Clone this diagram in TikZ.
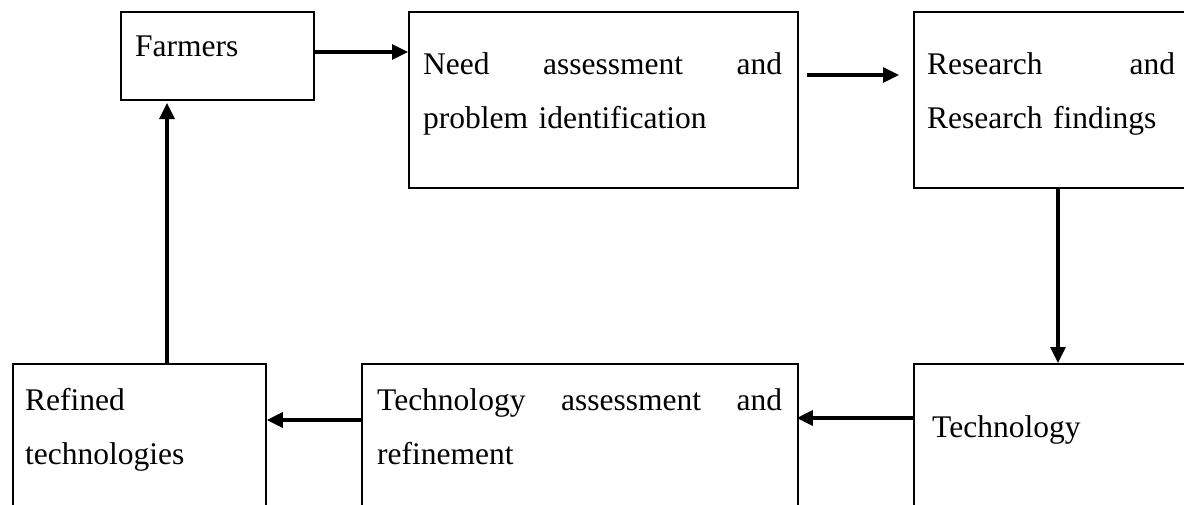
\documentclass[tikz,border=0pt]{standalone}
\usepackage{fontspec}
\setmainfont{Liberation Serif}
\usetikzlibrary{arrows.meta}
\tikzset{
  box/.style={draw, line width=1.8pt, inner sep=0pt, anchor=north west},
  txt/.style={anchor=base west, inner sep=0pt, font=\fontsize{31.5}{54}\selectfont},
  jtxt/.style={txt, align=justify},
  flow/.style={line width=3.2pt, -{Triangle[length=16pt,width=15pt]}}
}
\begin{document}
\begin{tikzpicture}[x=1pt,y=-1pt]
\useasboundingbox (0,0) rectangle (1184,504);
\fill[white] (0,0) rectangle (1184,504);
\clip (0,0) rectangle (1184,504);
% boxes
\node[box, minimum width=193pt, minimum height=88pt] (farm) at (120,11) {};
\node[box, minimum width=389pt, minimum height=176pt] (need) at (408,11) {};
\node[box, minimum width=300pt, minimum height=176pt] (res) at (913,11) {};
\node[box, minimum width=253pt, minimum height=170pt] (ref) at (12,363) {};
\node[box, minimum width=436pt, minimum height=170pt] (tass) at (361,363) {};
\node[box, minimum width=300pt, minimum height=170pt] (tech) at (913,363) {};
% texts
\node[txt] (tfarm) at (135,56) {Farmers};
\node[txt, text width=359pt] (tneed) at (423,74) {Need\hfill assessment\hfill and\\problem identification};
\node[txt, text width=248pt] (tres) at (927,74) {Research\hfill and\\Research findings};
\node[txt, text width=200pt, align=left] (tref) at (25,410) {Refined\\technologies};
\node[txt, text width=405pt] (ttass) at (377,410) {Technology\hfill assessment\hfill and\\refinement};
\node[txt] (ttech) at (932,437) {Technology};
% connectors
\draw[flow] (farm.east |- 0,52) -- (need.west |- 0,52);
\draw[flow] ([xshift=8pt]need.east |- 0,75) -- ([xshift=-14pt]res.west |- 0,75);
\draw[flow] (1058,187) coordinate (rb) -- (1058,363) coordinate (tt);
\draw[flow] (tech.west |- 0,418) -- ([xshift=-2pt]tass.east |- 0,418);
\draw[flow] (tass.west |- 0,420) -- (ref.east |- 0,420);
\draw[flow] (167,363) coordinate (rt) -- (167,103) coordinate (fb);
\end{tikzpicture}
\end{document}
